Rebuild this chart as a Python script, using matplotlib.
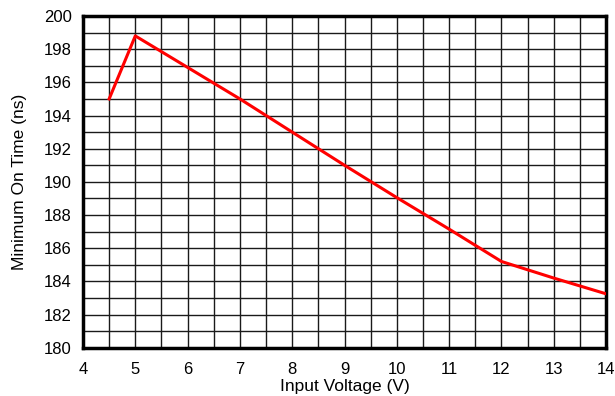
import matplotlib
matplotlib.use("Agg")
import matplotlib.pyplot as plt
import numpy as np

voltage = [4.5, 5, 6, 7, 8, 9, 10, 11, 12, 13, 14]
min_on_time = [195.0, 198.8, 196.9, 195.0, 193.0, 191.0, 189.05, 187.15, 185.2, 184.2, 183.25]

x_ticks = list(range(4, 15))
y_ticks = list(range(180, 201, 2))

plt.rcParams['font.family'] = ['Liberation Sans', 'DejaVu Sans']

fig = plt.figure(figsize=(6.15, 3.96), dpi=100)
ax = fig.add_axes([83/615, 1-347.7/396, (606-83)/615, (347.7-16)/396])

ax.plot(voltage, min_on_time, color='#ff0000', lw=2.2, zorder=3)

ax.set_xlim(4, 14)
ax.set_ylim(180, 200)
ax.set_xticks(x_ticks)
ax.set_yticks(y_ticks)
ax.set_xticks(np.arange(4, 14.01, 0.5), minor=True)
ax.set_yticks(np.arange(180, 200.01, 1), minor=True)
ax.grid(which='both', color='#1a1a1a', lw=1.0, zorder=1)
ax.tick_params(which='both', length=0, labelsize=12)
ax.tick_params(axis='x', pad=10.5)
ax.tick_params(axis='y', pad=8)

for s in ax.spines.values():
    s.set_linewidth(2.5)
    s.set_color('black')

ax.set_xlabel('Input Voltage (V)', fontsize=12.5, labelpad=1.5)
ax.set_ylabel('Minimum On Time (ns)', fontsize=12.5, labelpad=12)

fig.savefig('out.png', dpi=100)
